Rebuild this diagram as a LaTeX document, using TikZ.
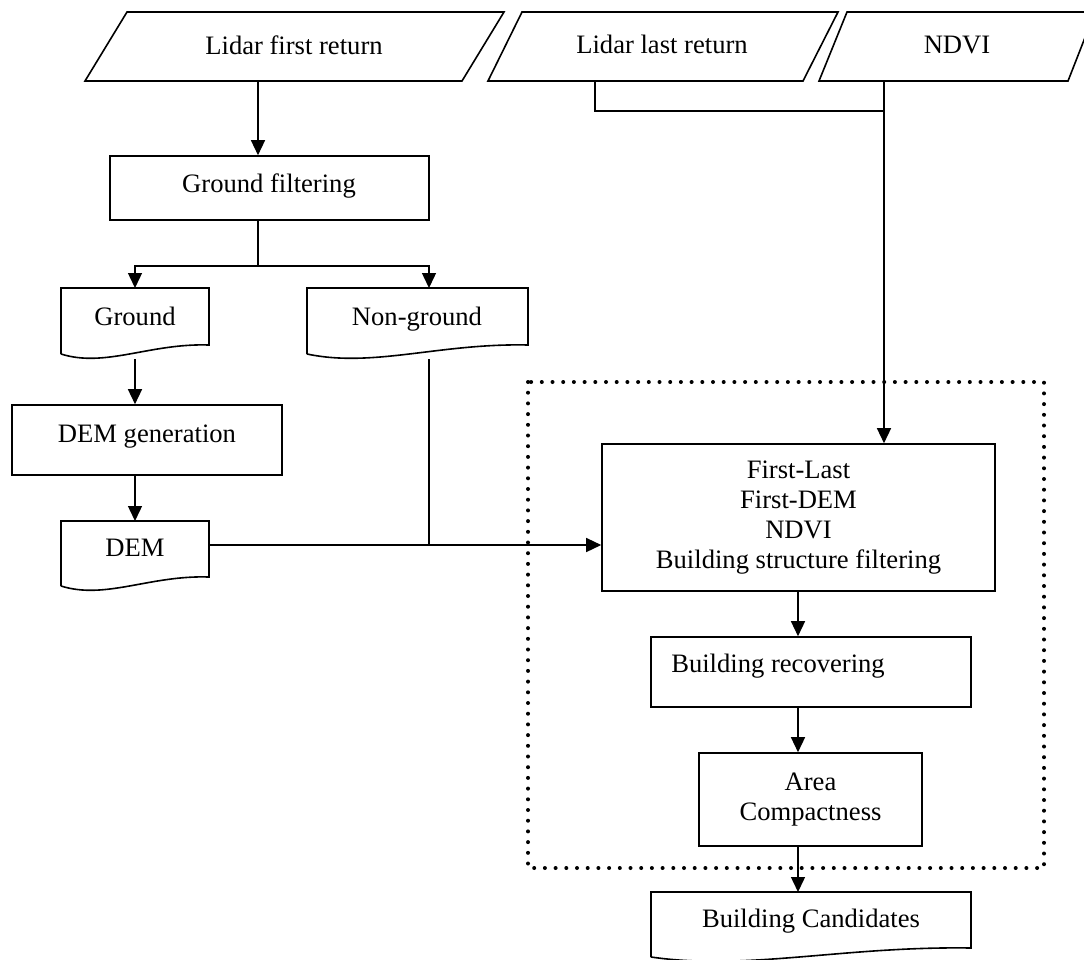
\documentclass[tikz,border=0pt]{standalone}
\usepackage{fontspec}
\setmainfont{Liberation Serif}
\usetikzlibrary{arrows.meta,calc}
\newcommand\docoutline[1]{%
  \draw[outline] ($(#1.south west)+(0,9)$) -- (#1.north west) -- (#1.north east) -- (#1.south east)
    .. controls ($(#1.south west)!0.6!(#1.south east)+(0,-2)$) and ($(#1.south west)!0.3!(#1.south east)+(0,23)$) .. ($(#1.south west)+(0,9)$);}
\begin{document}
\begin{tikzpicture}[x=1pt,y=-1pt,
  every node/.style={font=\fontsize{26.6}{30}\selectfont, inner sep=0pt},
  one/.style={text height=17.6pt, text depth=0pt},
  proc/.style={draw, line width=1.6pt, rectangle},
  docbox/.style={rectangle, outer sep=0pt},
  outline/.style={line width=1.6pt, line join=miter},
  conn/.style={line width=1.4pt},
  arr/.style={conn, -{Triangle[length=15pt,width=14pt]}},
  dotbox/.style={line width=4pt, line cap=round, dash pattern=on 0pt off 10.7pt},
  txt/.style={align=center}
]
\useasboundingbox (0,0) rectangle (1084,959);

% input parallelograms
\draw[outline] (127,12) -- (504,12) -- (462,81) -- (85,81) -- cycle;
\node[one] (p1) at (294,46) {Lidar first return};
\draw[outline] (522,12) -- (838,12) -- (803,81) -- (488,81) -- cycle;
\node[one] (p2) at (662,45) {Lidar last return};
\draw[outline] (847,12) -- (1095,12) -- (1068,81) -- (819,81) -- cycle;
\node[one] (p3) at (957,45) {NDVI};

% boxes
\node[proc, minimum width=319pt, minimum height=64pt] (gf) at (269.5,188) {};
\node[one] (gft) at (269,184) {Ground filtering};
\node[docbox, minimum width=148pt, minimum height=57pt] (ground) at (135,316.5) {};
\node[one] (groundt) at (135,317) {Ground};
\docoutline{ground}
\node[docbox, minimum width=221pt, minimum height=57pt] (ng) at (417.5,316.5) {};
\node[one] (ngt) at (417,317) {Non-ground};
\docoutline{ng}
\node[proc, minimum width=270pt, minimum height=70pt] (demgen) at (147,440) {};
\node[one] (demgent) at (147,434) {DEM generation};
\node[docbox, minimum width=148pt, minimum height=56pt] (dem) at (135,549) {};
\node[one] (demt) at (135,547.5) {DEM};
\docoutline{dem}

% dotted frame
\draw[dotbox] (528,382) rectangle (1044,868);

\node[proc, minimum width=393pt, minimum height=147pt, txt] (big) at (798.5,517.5)
  {First-Last\\First-DEM\\NDVI\\Building structure filtering};
\node[proc, minimum width=320pt, minimum height=70pt] (br) at (811,672) {};
\node[one] (brt) at (778,664) {Building recovering};
\node[proc, minimum width=223pt, minimum height=93pt, txt] (area) at (810.5,799.5) {Area\\Compactness};
\node[docbox, minimum width=320pt, minimum height=56pt] (bc) at (811,920) {};
\node[one] (bct) at (811,919) {Building Candidates};
\docoutline{bc}

% connector coordinates
\coordinate (p1b) at (258,81);
\coordinate (split) at (258,266);
\coordinate (ngx) at (429,266);
\coordinate (gw) at (135,359);
\coordinate (ngw) at (429,359);
\coordinate (j) at (429,545);
\coordinate (p2b) at (595,81);
\coordinate (p3b) at (884,81);
\coordinate (m) at (884,111);
\coordinate (cx) at (798,600);

% connectors
\draw[arr] (p1b) -- (p1b |- gf.north);
\draw[conn] (p1b |- gf.south) -- (split);
\draw[arr] (split) -| (ground.north);
\draw[arr] (split) -- (ngx) -- (ngx |- ng.north);
\draw[arr] (gw) -- (gw |- demgen.north);
\draw[arr] (gw |- demgen.south) -- (dem.north);
\draw[conn] (ngw) -- (j);
\draw[arr] (dem.east |- j) -- (j) -- (j -| big.west);
\draw[conn] (p2b) -- (p2b |- m) -- (m);
\draw[arr] (p3b) -- (p3b |- big.north);
\draw[arr] (cx |- big.south) -- (cx |- br.north);
\draw[arr] (cx |- br.south) -- (cx |- area.north);
\draw[arr] (cx |- area.south) -- (cx |- bc.north);
\end{tikzpicture}
\end{document}
